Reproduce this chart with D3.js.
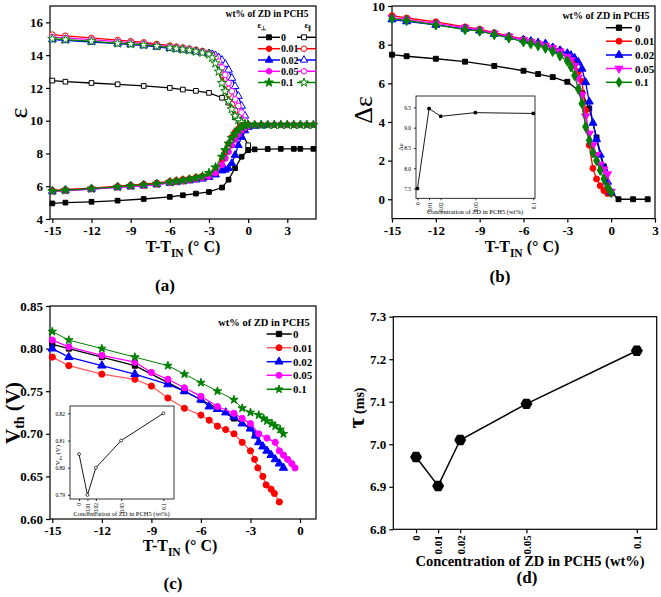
<!DOCTYPE html>
<html><head><meta charset="utf-8">
<script src="https://cdn.jsdelivr.net/npm/d3@7"></script>
<style>
body{margin:0;background:#fff}
svg text{font-family:"Liberation Serif","Times New Roman",serif !important;font-weight:bold;fill:#000}
svg text.nb{font-weight:normal}
</style>
</head><body>
<svg id="chart" width="661" height="597"></svg>
<script>
// ---------------- DATA ----------------
const seriesNames = ["0","0.01","0.02","0.05","0.1"];
const seriesColors = ["#000000","#ff0000","#0000ff","#ff00ff","#008000"];

// Panel (a): dielectric permittivity
const aPerpX0 = [-15,-14,-12,-10,-8,-6,-5,-4,-3,-2,-1.5,-1,-0.5,0,0.5,1.5,2.5,3.5,4,5];
const aPerpY0 = [4.95,5.0,5.05,5.12,5.22,5.35,5.45,5.55,5.65,5.92,6.4,7.1,7.8,8.2,8.25,8.27,8.28,8.28,8.28,8.28];
const aParX0 = [-15,-14,-12,-10,-8,-6,-5,-4,-3,-2,-1.5,-1,-0.5,0];
const aParY0 = [12.45,12.38,12.3,12.22,12.12,12.0,11.9,11.82,11.7,11.4,11.1,10.2,9.3,8.5];
const aPerpX = [-15,-14,-12,-10,-9,-8,-7,-6,-5.5,-5,-4.5,-4,-3.5,-3,-2.5,-2,-1.75,-1.5,-1.25,-1,-0.75,-0.5,-0.25,0,0.5,1,1.5,2,2.5,3,3.5,4,4.5,5];
const aPerpY01 = [5.75,5.8,5.88,6.0,6.07,6.13,6.2,6.3,6.36,6.42,6.47,6.54,6.62,6.75,7.0,7.6,8.1,8.6,9.0,9.3,9.5,9.65,9.72,9.75,9.75,9.75,9.75,9.75,9.75,9.75,9.75,9.75,9.75,9.75];
const aPerpY02 = [5.7,5.75,5.83,5.95,6.0,6.05,6.12,6.2,6.25,6.3,6.35,6.4,6.45,6.55,6.7,6.95,7.0,7.1,7.4,7.9,8.5,9.0,9.4,9.6,9.68,9.7];
const aPerpY05 = [5.68,5.72,5.82,5.93,5.98,6.03,6.1,6.2,6.25,6.3,6.35,6.42,6.5,6.6,6.8,7.3,7.7,8.1,8.5,8.85,9.15,9.4,9.55,9.65,9.75,9.75,9.75,9.75,9.75,9.75,9.75,9.75,9.75,9.75];
const aPerpY10 = [5.7,5.75,5.85,5.96,6.02,6.08,6.15,6.25,6.3,6.35,6.42,6.5,6.6,6.8,7.15,7.8,8.2,8.6,8.95,9.2,9.45,9.6,9.7,9.75,9.75,9.75,9.75,9.75,9.75,9.75,9.75,9.75,9.75,9.75];
const aParX = [-15,-14,-12,-10,-9,-8,-7,-6,-5.5,-5,-4.5,-4,-3.5,-3,-2.75,-2.5,-2.25,-2,-1.75,-1.5,-1.25,-1,-0.75,-0.5,-0.25,0];
const aParY01 = [15.25,15.18,15.05,14.92,14.85,14.78,14.68,14.58,14.52,14.46,14.4,14.33,14.25,14.15,14.05,13.9,13.4,12.8,12.2,11.6,11.0,10.6,10.3,10.0,9.85,9.75];
const aParY02 = [14.95,14.9,14.8,14.7,14.65,14.58,14.5,14.42,14.38,14.33,14.28,14.22,14.16,14.1,14.05,13.98,13.85,13.7,13.45,13.1,12.6,12.1,11.5,10.9,10.3,9.75];
const aParY05 = [15.1,15.05,14.95,14.82,14.76,14.7,14.6,14.5,14.45,14.4,14.35,14.28,14.2,14.1,14.0,13.85,13.6,13.25,12.8,12.3,11.8,11.3,10.9,10.5,10.0,9.75];
const aParY10 = [15.0,14.95,14.85,14.72,14.68,14.62,14.55,14.45,14.4,14.35,14.3,14.22,14.15,14.05,13.85,13.5,13.0,12.3,11.8,11.2,10.7,10.3,10.05,9.9,9.8,9.75];
const aXTicks = [-15,-12,-9,-6,-3,0,3];
const aYTicks = [4,6,8,10,12,14,16];

// Panel (b): dielectric anisotropy
const bX0 = [-15,-14,-12,-10,-8,-6,-5,-4,-3,-2,-1.5,-1,-0.5,0,0.5,1.5,2.5];
const bY0 = [7.48,7.4,7.27,7.12,6.9,6.65,6.48,6.32,6.08,5.5,4.7,3.2,1.7,0.35,0,0,0];
const bX = [-15,-14,-12,-10,-9,-8,-7,-6,-5.5,-5,-4.5,-4,-3.5,-3,-2.75,-2.5,-2.25,-2,-1.75,-1.5,-1.25,-1,-0.75,-0.5,-0.25,0];
const bY01 = [9.5,9.38,9.18,8.92,8.8,8.62,8.45,8.28,8.18,8.08,7.98,7.85,7.7,7.45,7.3,7.0,6.6,6.1,4.6,2.8,1.6,1.05,0.7,0.45,0.3,0.3];
const bY02 = [9.3,9.2,9.02,8.82,8.72,8.55,8.4,8.25,8.18,8.1,8.05,7.85,7.7,7.55,7.45,7.3,7.1,6.75,6.05,5.05,3.95,3.1,2.3,1.6,0.9,0.35];
const bY05 = [9.4,9.3,9.1,8.88,8.75,8.58,8.42,8.25,8.15,8.05,7.95,7.82,7.65,7.38,7.2,6.9,6.3,5.4,4.3,3.4,2.8,2.3,1.8,1.55,1.3,0.4];
const bY10 = [9.35,9.25,9.02,8.78,8.7,8.52,8.35,8.15,8.05,7.95,7.82,7.65,7.42,7.15,6.85,6.4,5.7,4.95,3.75,3.05,2.4,2.0,1.5,1.05,0.65,0.35];
const bXTicks = [-15,-12,-9,-6,-3,0,3];
const bYTicks = [0,2,4,6,8,10];

// Insets: concentration dependence
const concX = [0,0.01,0.02,0.05,0.1];
const concLabels = ["0","0.01","0.02","0.05","0.1"];
const bInsetY = [7.5,9.47,9.28,9.37,9.35];
const bInsetYTicks = [7.5,8.0,8.5,9.0,9.5];

// Panel (c): threshold voltage
const cX0 = [-15,-14,-12,-10,-8,-7,-6,-5,-4,-3,-2.7];
const cY0 = [0.805,0.80,0.79,0.78,0.76,0.75,0.74,0.73,0.718,0.707,0.698];
const cX01 = [-15,-14,-12,-10,-9,-8,-7,-6,-5.5,-5,-4.5,-4,-3.5,-3,-2.75,-2.55,-2.25,-2.05,-1.75,-1.55,-1.25];
const cY01 = [0.79,0.78,0.77,0.764,0.756,0.742,0.73,0.722,0.716,0.709,0.705,0.70,0.69,0.68,0.67,0.66,0.65,0.64,0.635,0.63,0.62];
const cX02 = [-15,-14,-12,-10,-8,-7,-6,-5.5,-5,-4.5,-4,-3.5,-3,-2.7,-2.5,-2.25,-2,-1.75,-1.5,-1.25,-1];
const cY02 = [0.80,0.79,0.78,0.77,0.758,0.75,0.74,0.732,0.729,0.725,0.72,0.712,0.706,0.698,0.69,0.685,0.68,0.675,0.67,0.665,0.66];
const cX05 = [-15,-14,-12,-10,-9,-8,-7,-6,-5,-4,-3.5,-3,-2.5,-2,-1.5,-1.25,-1,-0.75,-0.5,-0.3];
const cY05 = [0.81,0.802,0.792,0.784,0.772,0.764,0.754,0.744,0.732,0.724,0.718,0.712,0.70,0.695,0.69,0.68,0.675,0.67,0.665,0.66];
const cX10 = [-15,-14,-12,-10,-8,-7,-6,-5,-4,-3.5,-3,-2.5,-2.2,-2,-1.7,-1.5,-1.2,-1];
const cY10 = [0.82,0.81,0.80,0.79,0.78,0.77,0.76,0.75,0.74,0.73,0.725,0.722,0.718,0.715,0.712,0.709,0.705,0.70];
const cXTicks = [-15,-12,-9,-6,-3,0];
const cYTicks = [0.60,0.65,0.70,0.75,0.80,0.85];
const cInsetY = [0.805,0.79,0.80,0.81,0.82];
const cInsetYTicks = [0.79,0.80,0.81,0.82];

// Panel (d): response time
const dTau = [6.97,6.902,7.01,7.095,7.22];
const dYTicks = [6.8,6.9,7.0,7.1,7.2,7.3];

// ---------------- DRAWING ----------------
const svg = d3.select("#chart");

function panel(c) {
  const g = svg.append("g");
  const x = d3.scaleLinear().domain(c.xd).range([c.l, c.r]);
  const y = d3.scaleLinear().domain(c.yd).range([c.b, c.t]);
  const fs = c.fs || 13, ts = c.ts == null ? 4 : c.ts, sw = c.sw || 1.2;
  if (c.fill) g.append("rect").attr("x", c.l).attr("y", c.t).attr("width", c.r - c.l).attr("height", c.b - c.t).attr("fill", "#fff");
  const xa = g.append("g").attr("transform", `translate(0,${c.b})`)
    .call(d3.axisBottom(x).tickValues(c.xt).tickSize(ts).tickSizeOuter(0).tickPadding(c.xpad || 3).tickFormat((d, i) => c.xf ? c.xf(d, i) : d));
  const ya = g.append("g").attr("transform", `translate(${c.l},0)`)
    .call(d3.axisLeft(y).tickValues(c.yt).tickSize(ts).tickSizeOuter(0).tickPadding(c.ypad || 3).tickFormat(c.yf || (d => d)));
  [xa, ya].forEach(a => {
    a.attr("font-family", null).attr("font-size", null);
    a.select(".domain").remove();
    a.selectAll("line").attr("stroke", "#000").attr("stroke-width", sw);
    a.selectAll("text").attr("font-size", fs).classed("nb", c.tw === "normal");
  });
  if (c.rotX) {
    xa.selectAll("text").attr("transform", "rotate(-90)").attr("text-anchor", "end")
      .attr("dy", "0.35em").attr("x", -ts - 2).attr("y", 0);
  }
  g.append("rect").attr("x", c.l).attr("y", c.t).attr("width", c.r - c.l).attr("height", c.b - c.t)
    .attr("fill", "none").attr("stroke", "#000").attr("stroke-width", sw);
  return {g, x, y};
}

function marker(sel, type, size, color, filled, rot, sw) {
  sel.attr("d", d3.symbol().type(type).size(size)())
    .attr("fill", filled ? color : "#fff").attr("stroke", color).attr("stroke-width", sw || 1);
}

function series(p, xs, ys, color, type, filled, o) {
  o = o || {};
  const pts = xs.map((v, i) => [v, ys[i]]);
  const layer = p.g.append("g");
  layer.append("path").attr("d", d3.line().x(d => p.x(d[0])).y(d => p.y(d[1]))(pts))
    .attr("fill", "none").attr("stroke", o.lineColor || color).attr("stroke-width", o.lw || 1.3);
  if (type) {
    layer.selectAll(null).data(pts).enter().append("path")
      .attr("transform", d => `translate(${p.x(d[0])},${p.y(d[1])})${o.rot ? " rotate(180)" : ""}`)
      .call(s => marker(s, type, o.size || 26, color, filled, o.rot, o.msw));
  }
}

function legendRow(g, x1, x2, xm, y, color, type, filled, rot, size, lineColor) {
  g.append("line").attr("x1", x1).attr("x2", x2).attr("y1", y).attr("y2", y)
    .attr("stroke", lineColor || color).attr("stroke-width", 1.5);
  g.append("path").attr("transform", `translate(${xm},${y})${rot ? " rotate(180)" : ""}`)
    .call(s => marker(s, type, size || 28, color, filled));
}

function txt(x, y, s, fs, anchor, rot) {
  const t = svg.append("text").attr("x", x).attr("y", y).attr("font-size", fs)
    .attr("text-anchor", anchor || "middle");
  if (rot) t.attr("transform", `rotate(${rot},${x},${y})`);
  t.text(s);
  return t;
}

function xTitleT(x, y, fs) {
  const t = svg.append("text").attr("x", x).attr("y", y).attr("font-size", fs).attr("text-anchor", "middle");
  t.append("tspan").text("T-T");
  t.append("tspan").attr("font-size", fs * 0.72).attr("dy", fs * 0.3).text("IN");
  t.append("tspan").attr("dy", -fs * 0.3).text(" (° C)");
}

const S = d3.symbolSquare, C = d3.symbolCircle, T = d3.symbolTriangle, ST = d3.symbolStar, D = d3.symbolDiamond;

// ===== Panel (a) =====
const pa = panel({l: 50, r: 316, t: 6, b: 219, xd: [-15.18, 5.2], yd: [4, 17], xt: aXTicks, yt: aYTicks});
const aTypes = [S, C, T, C, ST];
const aParYs = [aParY01, aParY02, aParY05, aParY10];
const aPerpYs = [aPerpY01, aPerpY02, aPerpY05, aPerpY10];
series(pa, aParX0, aParY0, seriesColors[0], S, false, {size: 22});
series(pa, aPerpX0, aPerpY0, seriesColors[0], S, true, {size: 22});
aParYs.forEach((ys, i) => series(pa, aParX, ys, seriesColors[i + 1], aTypes[i + 1], false, {size: 26}));
aPerpYs.forEach((ys, i) => series(pa, aPerpX.slice(0, ys.length), ys, seriesColors[i + 1], aTypes[i + 1], true, {size: 26}));

txt(267, 17, "wt% of ZD in PCH5", 9.5);
{
  const h1 = svg.append("text").attr("x", 262).attr("y", 28).attr("font-size", 9).attr("text-anchor", "middle");
  h1.append("tspan").text("ε"); h1.append("tspan").attr("font-size", 6).attr("dy", 2).text("⊥");
  const h2 = svg.append("text").attr("x", 308).attr("y", 28).attr("font-size", 9).attr("text-anchor", "middle");
  h2.append("tspan").text("ε"); h2.append("tspan").attr("font-size", 6).attr("dy", 2).text("∥");
  const lg = svg.append("g");
  const rows = [37.3, 48.7, 60, 71.3, 82.5];
  seriesNames.forEach((n, i) => {
    legendRow(lg, 258, 280, 269, rows[i], seriesColors[i], aTypes[i], true, false, 24);
    legendRow(lg, 297, 316, 304, rows[i], seriesColors[i], aTypes[i], false, false, 24);
    txt(281, rows[i] + 3.5, n, 10, "start");
  });
}
svg.append("text").attr("x", 18).attr("y", 113).attr("font-size", 26).attr("class", "nb")
  .attr("text-anchor", "middle").attr("dy", "0.35em").attr("transform", "rotate(-90,18,113)").text("ε");
xTitleT(183, 252, 16);
txt(165, 291, "(a)", 17);

// ===== Panel (b) =====
const pb = panel({l: 392, r: 655, t: 6, b: 218.6, xd: [-15, 3], yd: [-1, 10], xt: bXTicks, yt: bYTicks});
const bTypes = [S, C, T, T, D];
const bYs = [bY01, bY02, bY05, bY10];
series(pb, bX0, bY0, seriesColors[0], S, true, {size: 24});
bYs.forEach((ys, i) => series(pb, bX, ys, seriesColors[i + 1], bTypes[i + 1], true, {size: i === 3 ? 30 : 28, rot: i === 2}));
txt(606, 18.5, "wt% of ZD in PCH5", 10);
{
  const lg = svg.append("g");
  const rows = [27.7, 41.2, 55, 68.5, 82.3];
  seriesNames.forEach((n, i) => {
    legendRow(lg, 606, 632, 619, rows[i], seriesColors[i], bTypes[i], true, i === 3, 28);
    txt(635, rows[i] + 4, n, 11, "start");
  });
}
// inset (b)
const pbi = panel({l: 416, r: 535, t: 96, b: 198.3, xd: [-0.0013, 0.1015], yd: [7.26, 9.78],
  xt: concX, yt: bInsetYTicks, fs: 5.5, ts: 2, sw: 0.8, tw: "normal", rotX: true,
  xf: (d, i) => concLabels[i], yf: d3.format(".1f"), fill: true});
series(pbi, concX, bInsetY, "#000", S, true, {size: 6, lw: 0.9});
svg.append("text").attr("x", 403).attr("y", 147).attr("font-size", 7).attr("class", "nb")
  .attr("text-anchor", "middle").attr("transform", "rotate(-90,403,147)").text("Δε");
svg.append("text").attr("x", 475).attr("y", 214).attr("font-size", 6.5).attr("class", "nb")
  .attr("text-anchor", "middle").text("Concentration of ZD in PCH5 (wt%)");
svg.append("text").attr("x", 363).attr("y", 110).attr("font-size", 26).attr("class", "nb")
  .attr("text-anchor", "middle").attr("dy", "0.35em").attr("transform", "rotate(-90,363,110)").text("Δε");
xTitleT(522, 252, 16);
txt(500, 282, "(b)", 17);

// ===== Panel (c) =====
const pc = panel({l: 50, r: 316, t: 306, b: 519, xd: [-15.14, 0.97], yd: [0.60, 0.85], xt: cXTicks, yt: cYTicks, yf: d3.format(".2f")});
const cTypes = [S, C, T, C, ST];
series(pc, cX0, cY0, seriesColors[0], S, true, {size: 26});
series(pc, cX01, cY01, seriesColors[1], C, true, {size: 30, lineColor: "#ff5a5a"});
series(pc, cX02, cY02, seriesColors[2], T, true, {size: 30});
series(pc, cX05, cY05, seriesColors[3], C, true, {size: 30});
series(pc, cX10, cY10, seriesColors[4], ST, true, {size: 22, lw: 1});
txt(264, 325.5, "wt% of ZD in PCH5", 10.5);
{
  const lg = svg.append("g");
  const rows = [334, 347.7, 361.7, 375.3, 389.3];
  seriesNames.forEach((n, i) => {
    legendRow(lg, 266.7, 291.7, 279, rows[i], seriesColors[i], cTypes[i], true, false, i === 4 ? 20 : 28, i === 1 ? "#ff5a5a" : null);
    txt(293, rows[i] + 4, n, 11, "start");
  });
}
// inset (c)
const pci = panel({l: 70, r: 174, t: 406, b: 499, xd: [-0.0107, 0.1127], yd: [0.7885, 0.8227],
  xt: concX, yt: cInsetYTicks, fs: 5.5, ts: 2, sw: 0.8, tw: "normal", rotX: true,
  xf: (d, i) => concLabels[i], yf: d3.format(".2f"), fill: true});
series(pci, concX, cInsetY, "#000", C, false, {size: 7, lw: 0.9, msw: 0.7});
{
  const t = svg.append("text").attr("x", 60).attr("y", 455).attr("font-size", 7).attr("class", "nb")
    .attr("text-anchor", "middle").attr("transform", "rotate(-90,60,455)");
  t.append("tspan").text("V");
  t.append("tspan").attr("font-size", 5).attr("dy", 1.5).text("th");
  t.append("tspan").attr("dy", -1.5).text(" (V)");
}
svg.append("text").attr("x", 121.5).attr("y", 515.5).attr("font-size", 6.5).attr("class", "nb")
  .attr("text-anchor", "middle").text("Concentration of ZD in PCH5 (wt%)");
{
  const t = svg.append("text").attr("x", 20).attr("y", 413).attr("font-size", 21)
    .attr("text-anchor", "middle").attr("transform", "rotate(-90,20,413)");
  t.append("tspan").text("V");
  t.append("tspan").attr("font-size", 14).attr("dy", 4).text("th");
  t.append("tspan").attr("dy", -4).text(" (V)");
}
xTitleT(180, 551, 16);
txt(173, 589, "(c)", 17);

// ===== Panel (d) =====
const pd = panel({l: 393.3, r: 656.7, t: 316.7, b: 529.3, xd: [-0.0103, 0.109], yd: [6.8, 7.3],
  xt: concX, yt: dYTicks, yf: d3.format(".1f"), rotX: true, xf: (d, i) => concLabels[i], fs: 11});
pd.g.selectAll("g").filter((d, i, n) => n[i].getAttribute("transform") === "translate(393.3,0)")
  .selectAll("text").attr("font-size", 13);
series(pd, concX, dTau, "#000", null, true, {lw: 1.5});
{
  const hex = d3.line()(d3.range(6).map(k => [6 * Math.cos(Math.PI / 3 * k), 6 * Math.sin(Math.PI / 3 * k)]));
  pd.g.selectAll(null).data(concX).enter().append("path")
    .attr("transform", (d, i) => `translate(${pd.x(d)},${pd.y(dTau[i])})`)
    .attr("d", hex + "Z").attr("fill", "#000");
}
{
  const t = svg.append("text").attr("x", 364).attr("y", 408).attr("font-size", 14)
    .attr("text-anchor", "middle").attr("transform", "rotate(-90,364,408)");
  t.append("tspan").attr("font-size", 24).attr("class", "nb").text("τ");
  t.append("tspan").text(" (ms)");
}
txt(530, 566, "Concentration of ZD in PCH5 (wt%)", 14.5);
txt(527, 583, "(d)", 17);
</script>
</body></html>
